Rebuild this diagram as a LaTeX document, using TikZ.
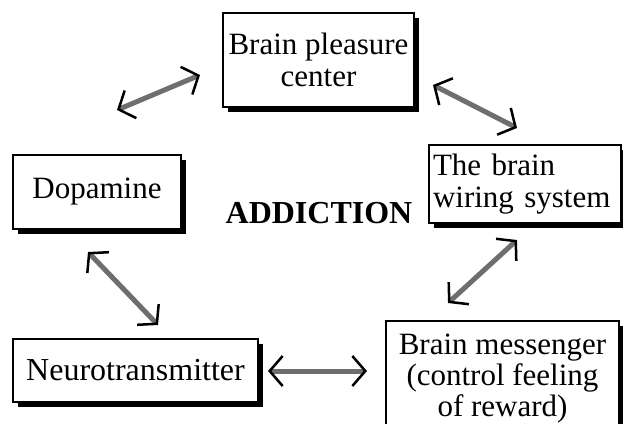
\documentclass[tikz,border=0pt]{standalone}
\usepackage{fontspec}
\setmainfont{Liberation Serif}
\usetikzlibrary{arrows.meta,shadows}
\begin{document}
\begin{tikzpicture}[x=1pt,y=-1pt,
  box/.style={draw=black,line width=2pt,fill=white,rectangle,anchor=north west,
    inner sep=0pt,font=\fontsize{31}{32}\selectfont,
    drop shadow={shadow xshift=5pt,shadow yshift=-5pt,fill=black,opacity=1}},
  link/.style={draw={rgb,255:red,110;green,110;blue,110},line width=5pt,
    {Straight Barb[length=13pt,width=30pt,line width=2.5pt,color=black]}-{Straight Barb[length=13pt,width=30pt,line width=2.5pt,color=black]}}
]
\useasboundingbox (0,0) rectangle (623,423);
\node[box,minimum width=191pt,minimum height=94pt,align=center] (pleasure) at (222,12) {Brain pleasure\\center};
\node[box,minimum width=168pt,minimum height=74pt] (dopamine) at (12,154) {Dopamine};
\node[box,minimum width=192pt,minimum height=78pt,text width=184pt,align=left,inner xsep=4pt] (wiring) at (428,144) {The brain\\wiring system};
\node[font=\bfseries\fontsize{32}{34}\selectfont] (addiction) at (319,213) {ADDICTION};
\node[box,minimum width=245pt,minimum height=63pt,font=\fontsize{32}{33}\selectfont] (neuro) at (12,338) {Neurotransmitter};
\node[box,minimum width=233pt,minimum height=116pt,align=center,font=\fontsize{31}{31}\selectfont] (messenger) at (385,320) {Brain messenger\\(control feeling\\of reward)};
\coordinate (a1s) at (117,110);
\coordinate (a1e) at (200,75);
\coordinate (a2s) at (433,85);
\coordinate (a2e) at (517,128);
\coordinate (a3s) at (517,240);
\coordinate (a3e) at (448,303);
\coordinate (a4s) at (268,371);
\coordinate (a4e) at (367,371);
\coordinate (a5s) at (88,252);
\coordinate (a5e) at (158,325);
\draw[link] (a1s) -- (a1e);
\draw[link] (a2s) -- (a2e);
\draw[link] (a3s) -- (a3e);
\draw[link] (a4s) -- (a4e);
\draw[link] (a5s) -- (a5e);
\end{tikzpicture}
\end{document}
